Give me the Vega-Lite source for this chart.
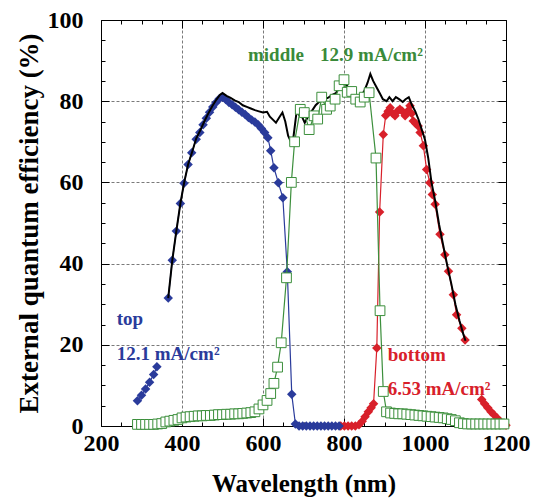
{
  "$schema": "https://vega.github.io/schema/vega-lite/v6.json",
  "width": 405,
  "height": 406,
  "autosize": {"type": "none"},
  "padding": {"left": 101, "top": 20, "right": 27, "bottom": 74},
  "background": "white",
  "config": {
    "view": {"stroke": null},
    "font": "Liberation Serif",
    "axis": {"domainColor": "black", "tickColor": "black", "labelColor": "black", "titleColor": "black", "labelFont": "Liberation Serif", "titleFont": "Liberation Serif", "labelFontWeight": "bold", "titleFontWeight": "bold", "labelFontSize": 24, "gridColor": "#7a7a7a", "gridDash": [3, 2], "gridWidth": 1}
  },
  "datasets": {
    "eqe": [
      {"s": "top", "g": "t1", "x": 290, "y": 6.2},
      {"s": "top", "g": "t1", "x": 300, "y": 7.6},
      {"s": "top", "g": "t1", "x": 310, "y": 9.1},
      {"s": "top", "g": "t1", "x": 320, "y": 10.8},
      {"s": "top", "g": "t1", "x": 330, "y": 12.7},
      {"s": "top", "g": "t1", "x": 338, "y": 14.6},
      {"s": "top", "g": "t2", "x": 366, "y": 31.5},
      {"s": "top", "g": "t2", "x": 376, "y": 40.8},
      {"s": "top", "g": "t2", "x": 386, "y": 48},
      {"s": "top", "g": "t2", "x": 396, "y": 54.8},
      {"s": "top", "g": "t2", "x": 405, "y": 59.8},
      {"s": "top", "g": "t2", "x": 415, "y": 64.4},
      {"s": "top", "g": "t2", "x": 424, "y": 67.3},
      {"s": "top", "g": "t2", "x": 435, "y": 70.6},
      {"s": "top", "g": "t2", "x": 444, "y": 72.3},
      {"s": "top", "g": "t2", "x": 452, "y": 74.2},
      {"s": "top", "g": "t2", "x": 460, "y": 75.8},
      {"s": "top", "g": "t2", "x": 468, "y": 77.3},
      {"s": "top", "g": "t2", "x": 476, "y": 78.6},
      {"s": "top", "g": "t2", "x": 484, "y": 79.7},
      {"s": "top", "g": "t2", "x": 492, "y": 80.6},
      {"s": "top", "g": "t2", "x": 500, "y": 81},
      {"s": "top", "g": "t2", "x": 508, "y": 80.4},
      {"s": "top", "g": "t2", "x": 516, "y": 79.7},
      {"s": "top", "g": "t2", "x": 524, "y": 79.1},
      {"s": "top", "g": "t2", "x": 532, "y": 78.5},
      {"s": "top", "g": "t2", "x": 540, "y": 77.9},
      {"s": "top", "g": "t2", "x": 548, "y": 77.3},
      {"s": "top", "g": "t2", "x": 556, "y": 76.7},
      {"s": "top", "g": "t2", "x": 564, "y": 76},
      {"s": "top", "g": "t2", "x": 572, "y": 75.4},
      {"s": "top", "g": "t2", "x": 580, "y": 74.9},
      {"s": "top", "g": "t2", "x": 588, "y": 74.2},
      {"s": "top", "g": "t2", "x": 596, "y": 73.3},
      {"s": "top", "g": "t2", "x": 604, "y": 72.3},
      {"s": "top", "g": "t2", "x": 612, "y": 71},
      {"s": "top", "g": "t2", "x": 619, "y": 67.8},
      {"s": "top", "g": "t2", "x": 627, "y": 63.6},
      {"s": "top", "g": "t2", "x": 638, "y": 59.9},
      {"s": "top", "g": "t2", "x": 649, "y": 56.2},
      {"s": "top", "g": "t2", "x": 660, "y": 38},
      {"s": "top", "g": "t2", "x": 671, "y": 7.8},
      {"s": "top", "g": "t2", "x": 680, "y": 0.5},
      {"s": "top", "g": "t2", "x": 689, "y": 0},
      {"s": "top", "g": "t2", "x": 698, "y": 0},
      {"s": "top", "g": "t2", "x": 707, "y": 0},
      {"s": "top", "g": "t2", "x": 716, "y": 0},
      {"s": "top", "g": "t2", "x": 725, "y": 0},
      {"s": "top", "g": "t2", "x": 734, "y": 0},
      {"s": "top", "g": "t2", "x": 743, "y": 0},
      {"s": "top", "g": "t2", "x": 752, "y": 0},
      {"s": "top", "g": "t2", "x": 761, "y": 0},
      {"s": "top", "g": "t2", "x": 770, "y": 0},
      {"s": "top", "g": "t2", "x": 779, "y": 0},
      {"s": "top", "g": "t2", "x": 788, "y": 0},

      {"s": "bottom", "g": "b1", "x": 792, "y": 0},
      {"s": "bottom", "g": "b1", "x": 801, "y": 0},
      {"s": "bottom", "g": "b1", "x": 810, "y": 0},
      {"s": "bottom", "g": "b1", "x": 819, "y": 0},
      {"s": "bottom", "g": "b1", "x": 828, "y": 0},
      {"s": "bottom", "g": "b1", "x": 837, "y": 0.3},
      {"s": "bottom", "g": "b1", "x": 845, "y": 1.2},
      {"s": "bottom", "g": "b1", "x": 852, "y": 2.3},
      {"s": "bottom", "g": "b1", "x": 860, "y": 3.5},
      {"s": "bottom", "g": "b1", "x": 867, "y": 4.5},
      {"s": "bottom", "g": "b1", "x": 873, "y": 5.5},
      {"s": "bottom", "g": "b1", "x": 881, "y": 19.2},
      {"s": "bottom", "g": "b1", "x": 888, "y": 52.7},
      {"s": "bottom", "g": "b1", "x": 897, "y": 71.8},
      {"s": "bottom", "g": "b1", "x": 903, "y": 76.5},
      {"s": "bottom", "g": "b1", "x": 909, "y": 77.5},
      {"s": "bottom", "g": "b1", "x": 914, "y": 78.4},
      {"s": "bottom", "g": "b1", "x": 920, "y": 77},
      {"s": "bottom", "g": "b1", "x": 926, "y": 76.4},
      {"s": "bottom", "g": "b1", "x": 932, "y": 77.5},
      {"s": "bottom", "g": "b1", "x": 938, "y": 78},
      {"s": "bottom", "g": "b1", "x": 944, "y": 77.5},
      {"s": "bottom", "g": "b1", "x": 951, "y": 76.4},
      {"s": "bottom", "g": "b1", "x": 957, "y": 77.5},
      {"s": "bottom", "g": "b1", "x": 963, "y": 78.9},
      {"s": "bottom", "g": "b1", "x": 967, "y": 77},
      {"s": "bottom", "g": "b1", "x": 971, "y": 75.1},
      {"s": "bottom", "g": "b1", "x": 977, "y": 74.5},
      {"s": "bottom", "g": "b1", "x": 983, "y": 73.9},
      {"s": "bottom", "g": "b1", "x": 988, "y": 72.3},
      {"s": "bottom", "g": "b1", "x": 996, "y": 69},
      {"s": "bottom", "g": "b1", "x": 1004, "y": 63.2},
      {"s": "bottom", "g": "b1", "x": 1012, "y": 59.9},
      {"s": "bottom", "g": "b1", "x": 1018, "y": 57},
      {"s": "bottom", "g": "b1", "x": 1025, "y": 54.6},
      {"s": "bottom", "g": "b1", "x": 1037, "y": 47.2},
      {"s": "bottom", "g": "b1", "x": 1049, "y": 42.2},
      {"s": "bottom", "g": "b1", "x": 1058, "y": 38.1},
      {"s": "bottom", "g": "b1", "x": 1070, "y": 32.3},
      {"s": "bottom", "g": "b1", "x": 1078, "y": 27.4},
      {"s": "bottom", "g": "b1", "x": 1091, "y": 24.1},
      {"s": "bottom", "g": "b1", "x": 1099, "y": 21.2},
      {"s": "bottom", "g": "b2", "x": 1140, "y": 6.5},
      {"s": "bottom", "g": "b2", "x": 1147, "y": 5.5},
      {"s": "bottom", "g": "b2", "x": 1155, "y": 4.5},
      {"s": "bottom", "g": "b2", "x": 1163, "y": 3.5},
      {"s": "bottom", "g": "b2", "x": 1170, "y": 2.8},
      {"s": "bottom", "g": "b2", "x": 1178, "y": 2},
      {"s": "bottom", "g": "b2", "x": 1185, "y": 1.2},
      {"s": "bottom", "g": "b2", "x": 1192, "y": 0.6},
      {"s": "bottom", "g": "b2", "x": 1200, "y": 0.2},

      {"s": "total", "g": "s1", "x": 366, "y": 31.5},
      {"s": "total", "g": "s1", "x": 376, "y": 40.8},
      {"s": "total", "g": "s1", "x": 386, "y": 48},
      {"s": "total", "g": "s1", "x": 396, "y": 54.8},
      {"s": "total", "g": "s1", "x": 405, "y": 59.8},
      {"s": "total", "g": "s1", "x": 415, "y": 64.4},
      {"s": "total", "g": "s1", "x": 425, "y": 67.5},
      {"s": "total", "g": "s1", "x": 435, "y": 70.8},
      {"s": "total", "g": "s1", "x": 445, "y": 72.8},
      {"s": "total", "g": "s1", "x": 455, "y": 75},
      {"s": "total", "g": "s1", "x": 465, "y": 77},
      {"s": "total", "g": "s1", "x": 475, "y": 78.8},
      {"s": "total", "g": "s1", "x": 485, "y": 80.4},
      {"s": "total", "g": "s1", "x": 494, "y": 81.6},
      {"s": "total", "g": "s1", "x": 500, "y": 82},
      {"s": "total", "g": "s1", "x": 510, "y": 81.3},
      {"s": "total", "g": "s1", "x": 520, "y": 80.8},
      {"s": "total", "g": "s1", "x": 530, "y": 80.2},
      {"s": "total", "g": "s1", "x": 540, "y": 79.8},
      {"s": "total", "g": "s1", "x": 550, "y": 79},
      {"s": "total", "g": "s1", "x": 560, "y": 78.6},
      {"s": "total", "g": "s1", "x": 570, "y": 78.2},
      {"s": "total", "g": "s1", "x": 580, "y": 77.8},
      {"s": "total", "g": "s1", "x": 590, "y": 77.5},
      {"s": "total", "g": "s1", "x": 600, "y": 77.2},
      {"s": "total", "g": "s1", "x": 610, "y": 77.4},
      {"s": "total", "g": "s1", "x": 617, "y": 76.2},
      {"s": "total", "g": "s1", "x": 625, "y": 75.4},
      {"s": "total", "g": "s1", "x": 632, "y": 74.7},
      {"s": "total", "g": "s1", "x": 640, "y": 76},
      {"s": "total", "g": "s1", "x": 648, "y": 77.2},
      {"s": "total", "g": "s1", "x": 655, "y": 75},
      {"s": "total", "g": "s1", "x": 662, "y": 71.5},
      {"s": "total", "g": "s1", "x": 668, "y": 70.2},
      {"s": "total", "g": "s1", "x": 675, "y": 71},
      {"s": "total", "g": "s1", "x": 683, "y": 77.5},
      {"s": "total", "g": "s1", "x": 690, "y": 76.5},
      {"s": "total", "g": "s1", "x": 697, "y": 76},
      {"s": "total", "g": "s1", "x": 703, "y": 74.7},
      {"s": "total", "g": "s1", "x": 710, "y": 76},
      {"s": "total", "g": "s1", "x": 720, "y": 77.5},
      {"s": "total", "g": "s1", "x": 730, "y": 79},
      {"s": "total", "g": "s1", "x": 740, "y": 80},
      {"s": "total", "g": "s1", "x": 750, "y": 80.5},
      {"s": "total", "g": "s1", "x": 760, "y": 80.8},
      {"s": "total", "g": "s1", "x": 770, "y": 81.5},
      {"s": "total", "g": "s1", "x": 780, "y": 82},
      {"s": "total", "g": "s1", "x": 790, "y": 83.5},
      {"s": "total", "g": "s1", "x": 800, "y": 84.5},
      {"s": "total", "g": "s1", "x": 810, "y": 83.5},
      {"s": "total", "g": "s1", "x": 820, "y": 82},
      {"s": "total", "g": "s1", "x": 830, "y": 81.5},
      {"s": "total", "g": "s1", "x": 840, "y": 81},
      {"s": "total", "g": "s1", "x": 850, "y": 82.5},
      {"s": "total", "g": "s1", "x": 858, "y": 84.5},
      {"s": "total", "g": "s1", "x": 865, "y": 86.7},
      {"s": "total", "g": "s1", "x": 872, "y": 85},
      {"s": "total", "g": "s1", "x": 880, "y": 83.5},
      {"s": "total", "g": "s1", "x": 888, "y": 82},
      {"s": "total", "g": "s1", "x": 896, "y": 80.5},
      {"s": "total", "g": "s1", "x": 905, "y": 80},
      {"s": "total", "g": "s1", "x": 912, "y": 81},
      {"s": "total", "g": "s1", "x": 920, "y": 80},
      {"s": "total", "g": "s1", "x": 928, "y": 81},
      {"s": "total", "g": "s1", "x": 936, "y": 80.5},
      {"s": "total", "g": "s1", "x": 945, "y": 79.8},
      {"s": "total", "g": "s1", "x": 952, "y": 80.5},
      {"s": "total", "g": "s1", "x": 960, "y": 81},
      {"s": "total", "g": "s1", "x": 968, "y": 79},
      {"s": "total", "g": "s1", "x": 976, "y": 77.5},
      {"s": "total", "g": "s1", "x": 984, "y": 75.5},
      {"s": "total", "g": "s1", "x": 992, "y": 73},
      {"s": "total", "g": "s1", "x": 1000, "y": 70.5},
      {"s": "total", "g": "s1", "x": 1008, "y": 66},
      {"s": "total", "g": "s1", "x": 1016, "y": 60},
      {"s": "total", "g": "s1", "x": 1025, "y": 55.5},
      {"s": "total", "g": "s1", "x": 1035, "y": 49.5},
      {"s": "total", "g": "s1", "x": 1045, "y": 44.5},
      {"s": "total", "g": "s1", "x": 1055, "y": 39.5},
      {"s": "total", "g": "s1", "x": 1065, "y": 35},
      {"s": "total", "g": "s1", "x": 1075, "y": 30},
      {"s": "total", "g": "s1", "x": 1085, "y": 26},
      {"s": "total", "g": "s1", "x": 1095, "y": 22.5},
      {"s": "total", "g": "s1", "x": 1100, "y": 21},

      {"s": "middle", "g": "m1", "x": 290, "y": 0.4},
      {"s": "middle", "g": "m1", "x": 300, "y": 0.4},
      {"s": "middle", "g": "m1", "x": 310, "y": 0.4},
      {"s": "middle", "g": "m1", "x": 320, "y": 0.4},
      {"s": "middle", "g": "m1", "x": 330, "y": 0.4},
      {"s": "middle", "g": "m1", "x": 340, "y": 0.5},
      {"s": "middle", "g": "m1", "x": 350, "y": 0.6},
      {"s": "middle", "g": "m1", "x": 360, "y": 1},
      {"s": "middle", "g": "m1", "x": 370, "y": 1.2},
      {"s": "middle", "g": "m1", "x": 380, "y": 1.4},
      {"s": "middle", "g": "m1", "x": 390, "y": 1.6},
      {"s": "middle", "g": "m1", "x": 400, "y": 2},
      {"s": "middle", "g": "m1", "x": 410, "y": 2.2},
      {"s": "middle", "g": "m1", "x": 420, "y": 2.3},
      {"s": "middle", "g": "m1", "x": 430, "y": 2.4},
      {"s": "middle", "g": "m1", "x": 440, "y": 2.5},
      {"s": "middle", "g": "m1", "x": 450, "y": 2.5},
      {"s": "middle", "g": "m1", "x": 460, "y": 2.6},
      {"s": "middle", "g": "m1", "x": 470, "y": 2.6},
      {"s": "middle", "g": "m1", "x": 480, "y": 2.7},
      {"s": "middle", "g": "m1", "x": 490, "y": 2.8},
      {"s": "middle", "g": "m1", "x": 500, "y": 2.8},
      {"s": "middle", "g": "m1", "x": 510, "y": 2.9},
      {"s": "middle", "g": "m1", "x": 520, "y": 2.9},
      {"s": "middle", "g": "m1", "x": 530, "y": 3},
      {"s": "middle", "g": "m1", "x": 540, "y": 3},
      {"s": "middle", "g": "m1", "x": 550, "y": 3.1},
      {"s": "middle", "g": "m1", "x": 560, "y": 3.2},
      {"s": "middle", "g": "m1", "x": 570, "y": 3.3},
      {"s": "middle", "g": "m1", "x": 580, "y": 3.5},
      {"s": "middle", "g": "m1", "x": 590, "y": 4.2},
      {"s": "middle", "g": "m1", "x": 600, "y": 5.2},
      {"s": "middle", "g": "m1", "x": 610, "y": 6.3},
      {"s": "middle", "g": "m1", "x": 619, "y": 8},
      {"s": "middle", "g": "m1", "x": 627, "y": 10.5},
      {"s": "middle", "g": "m1", "x": 636, "y": 14.5},
      {"s": "middle", "g": "m1", "x": 645, "y": 20.5},
      {"s": "middle", "g": "m1", "x": 658, "y": 36.5},
      {"s": "middle", "g": "m1", "x": 670, "y": 60},
      {"s": "middle", "g": "m1", "x": 678, "y": 70},
      {"s": "middle", "g": "m1", "x": 692, "y": 78},
      {"s": "middle", "g": "m1", "x": 702, "y": 77.2},
      {"s": "middle", "g": "m1", "x": 714, "y": 73},
      {"s": "middle", "g": "m1", "x": 726, "y": 76.4},
      {"s": "middle", "g": "m1", "x": 735, "y": 75.6},
      {"s": "middle", "g": "m1", "x": 745, "y": 81},
      {"s": "middle", "g": "m1", "x": 757, "y": 78},
      {"s": "middle", "g": "m1", "x": 766, "y": 78.8},
      {"s": "middle", "g": "m1", "x": 778, "y": 80.5},
      {"s": "middle", "g": "m1", "x": 788, "y": 83.8},
      {"s": "middle", "g": "m1", "x": 800, "y": 85.3},
      {"s": "middle", "g": "m1", "x": 808, "y": 82.2},
      {"s": "middle", "g": "m1", "x": 819, "y": 82.4},
      {"s": "middle", "g": "m1", "x": 829, "y": 80.5},
      {"s": "middle", "g": "m1", "x": 840, "y": 79.8},
      {"s": "middle", "g": "m1", "x": 850, "y": 81},
      {"s": "middle", "g": "m1", "x": 862, "y": 82.1},
      {"s": "middle", "g": "m1", "x": 879, "y": 66},
      {"s": "middle", "g": "m1", "x": 889, "y": 28.4},
      {"s": "middle", "g": "m1", "x": 897, "y": 8.5},
      {"s": "middle", "g": "m1", "x": 905, "y": 3.5},
      {"s": "middle", "g": "m1", "x": 915, "y": 3.2},
      {"s": "middle", "g": "m1", "x": 925, "y": 3.1},
      {"s": "middle", "g": "m1", "x": 935, "y": 3},
      {"s": "middle", "g": "m1", "x": 945, "y": 3},
      {"s": "middle", "g": "m1", "x": 955, "y": 2.9},
      {"s": "middle", "g": "m1", "x": 965, "y": 2.8},
      {"s": "middle", "g": "m1", "x": 975, "y": 2.7},
      {"s": "middle", "g": "m1", "x": 985, "y": 2.6},
      {"s": "middle", "g": "m1", "x": 995, "y": 2.5},
      {"s": "middle", "g": "m1", "x": 1005, "y": 2.4},
      {"s": "middle", "g": "m1", "x": 1015, "y": 2.3},
      {"s": "middle", "g": "m1", "x": 1025, "y": 2.2},
      {"s": "middle", "g": "m1", "x": 1035, "y": 2.1},
      {"s": "middle", "g": "m1", "x": 1045, "y": 2},
      {"s": "middle", "g": "m1", "x": 1055, "y": 1.8},
      {"s": "middle", "g": "m1", "x": 1065, "y": 1.6},
      {"s": "middle", "g": "m1", "x": 1075, "y": 1.3},
      {"s": "middle", "g": "m1", "x": 1085, "y": 0.8},
      {"s": "middle", "g": "m1", "x": 1095, "y": 0.6},
      {"s": "middle", "g": "m1", "x": 1105, "y": 0.5},
      {"s": "middle", "g": "m1", "x": 1115, "y": 0.5},
      {"s": "middle", "g": "m1", "x": 1125, "y": 0.5},
      {"s": "middle", "g": "m1", "x": 1135, "y": 0.5},
      {"s": "middle", "g": "m1", "x": 1145, "y": 0.5},
      {"s": "middle", "g": "m1", "x": 1155, "y": 0.5},
      {"s": "middle", "g": "m1", "x": 1165, "y": 0.5},
      {"s": "middle", "g": "m1", "x": 1175, "y": 0.5},
      {"s": "middle", "g": "m1", "x": 1185, "y": 0.5},
      {"s": "middle", "g": "m1", "x": 1195, "y": 0.5}
    ],
    "notes": [
      {"label": "middle", "s": "middle", "x": 563, "y": 89.9},
      {"label": "12.9 mA/cm²", "s": "middle", "x": 741, "y": 89.9},
      {"label": "top", "s": "top", "x": 239, "y": 25},
      {"label": "12.1 mA/cm²", "s": "top", "x": 239, "y": 16.3},
      {"label": "bottom", "s": "bottom", "x": 908, "y": 16},
      {"label": "6.53 mA/cm²", "s": "bottom", "x": 908, "y": 7.6}
    ]
  },
  "resolve": {"axis": {"x": "independent", "y": "independent"}},
  "layer": [
    {
      "data": {"name": "eqe"},
      "transform": [{"filter": "datum.s === 'bottom'"}],
      "mark": {"type": "line", "color": "#d8202a", "strokeWidth": 1.2, "point": {"shape": "diamond", "filled": true, "color": "#d8202a", "size": 90}},
      "encoding": {
        "x": {"field": "x", "type": "quantitative", "scale": {"domain": [200, 1200], "nice": false},
          "axis": {"orient": "bottom", "title": "Wavelength (nm)", "titleFontSize": 25, "values": [200,250,300,350,400,450,500,550,600,650,700,750,800,850,900,950,1000,1050,1100,1150,1200],
            "labelExpr": "datum.value % 200 === 0 ? datum.label : ''", "format": "d", "labelPadding": 13, "titlePadding": 12, "labelFlush": false, "labelOverlap": false,
            "tickSize": {"condition": {"test": "datum.value % 200 === 0", "value": -8}, "value": -4},
            "gridOpacity": {"condition": {"test": "datum.value % 200 === 0", "value": 1}, "value": 0}}},
        "y": {"field": "y", "type": "quantitative", "scale": {"domain": [0, 100], "nice": false},
          "axis": {"orient": "left", "title": "External quantum efficiency (%)", "titleFontSize": 27, "values": [0,5,10,15,20,25,30,35,40,45,50,55,60,65,70,75,80,85,90,95,100],
            "labelExpr": "datum.value % 20 === 0 ? datum.label : ''", "labelPadding": 26, "titlePadding": 4, "labelFlush": false, "labelOverlap": false,
            "tickSize": {"condition": {"test": "datum.value % 20 === 0", "value": -8}, "value": -4},
            "gridOpacity": {"condition": {"test": "datum.value % 20 === 0", "value": 1}, "value": 0}}},
        "detail": {"field": "g"}
      }
    },
    {
      "data": {"name": "eqe"},
      "transform": [{"filter": "datum.s === 'top'"}],
      "mark": {"type": "line", "color": "#2a3b9b", "strokeWidth": 1.2, "point": {"shape": "diamond", "filled": true, "color": "#2a3b9b", "size": 90}},
      "encoding": {
        "x": {"field": "x", "type": "quantitative", "axis": {"orient": "top", "title": null, "labels": false, "grid": false, "values": [200,250,300,350,400,450,500,550,600,650,700,750,800,850,900,950,1000,1050,1100,1150,1200],
            "tickSize": {"condition": {"test": "datum.value % 200 === 0", "value": -8}, "value": -4}}},
        "y": {"field": "y", "type": "quantitative", "axis": {"orient": "right", "title": null, "labels": false, "grid": false, "values": [0,5,10,15,20,25,30,35,40,45,50,55,60,65,70,75,80,85,90,95,100],
            "tickSize": {"condition": {"test": "datum.value % 20 === 0", "value": -8}, "value": -4}}},
        "detail": {"field": "g"}
      }
    },
    {
      "data": {"name": "eqe"},
      "transform": [{"filter": "datum.s === 'total'"}],
      "mark": {"type": "line", "color": "black", "strokeWidth": 2},
      "encoding": {
        "x": {"field": "x", "type": "quantitative", "axis": null},
        "y": {"field": "y", "type": "quantitative", "axis": null},
        "detail": {"field": "g"}
      }
    },
    {
      "data": {"name": "eqe"},
      "transform": [{"filter": "datum.s === 'middle'"}],
      "mark": {"type": "line", "color": "#3c8f3c", "strokeWidth": 1.2, "point": {"shape": "square", "filled": true, "fill": "white", "stroke": "#3c8f3c", "strokeWidth": 1, "size": 95}},
      "encoding": {
        "x": {"field": "x", "type": "quantitative", "axis": null},
        "y": {"field": "y", "type": "quantitative", "axis": null},
        "detail": {"field": "g"}
      }
    },
    {
      "data": {"name": "notes"},
      "mark": {"type": "text", "font": "Liberation Serif", "fontWeight": "bold", "fontSize": 19, "align": "left", "baseline": "alphabetic"},
      "encoding": {
        "x": {"field": "x", "type": "quantitative", "axis": null},
        "y": {"field": "y", "type": "quantitative", "axis": null},
        "text": {"field": "label"},
        "color": {"field": "s", "type": "nominal", "legend": null, "scale": {"domain": ["top", "middle", "bottom"], "range": ["#2a3b9b", "#3a8a3a", "#d8202a"]}}
      }
    }
  ]
}
